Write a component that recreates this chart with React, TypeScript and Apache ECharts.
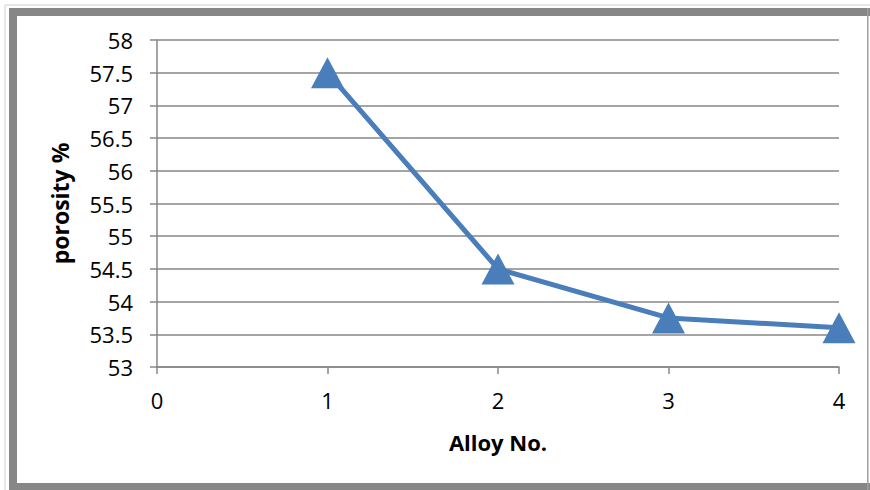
import React, { useEffect, useRef } from "react";
import * as echarts from "echarts";

const alloyNo = [1, 2, 3, 4];
const porosity = [57.5, 54.5, 53.75, 53.6];
const xTitle = "Alloy No.";
const yTitle = "porosity %";

export default function App() {
  const ref = useRef<HTMLDivElement>(null);
  useEffect(() => {
    const chart = echarts.init(ref.current!, null, { renderer: "svg" });
    const gridColor = "#878787";
    chart.setOption({
      animation: false,
      backgroundColor: "#ffffff",
      textStyle: { fontFamily: "Open Sans" },
      grid: { left: 157, right: 31, top: 40, bottom: 123 },
      xAxis: {
        type: "value",
        min: 0,
        max: 4,
        interval: 1,
        name: xTitle,
        nameLocation: "middle",
        nameGap: 64,
        nameTextStyle: { fontSize: 22, fontWeight: "bold", color: "#000", fontFamily: "Open Sans" },
        axisLine: { show: true, onZero: false, lineStyle: { color: gridColor, width: 1.5 } },
        axisTick: { show: true, length: 7, lineStyle: { color: gridColor, width: 1.5 } },
        axisLabel: { fontSize: 22, color: "#000", margin: 22, fontFamily: "Open Sans" },
        splitLine: { show: false },
      },
      yAxis: {
        type: "value",
        min: 53,
        max: 58,
        interval: 0.5,
        name: yTitle,
        nameLocation: "middle",
        nameGap: 86,
        nameRotate: 90,
        nameTextStyle: { fontSize: 23, fontWeight: "bold", color: "#000", fontFamily: "Open Sans" },
        axisLine: { show: true, lineStyle: { color: gridColor, width: 1.5 } },
        axisTick: { show: true, length: 7, lineStyle: { color: gridColor, width: 1.5 } },
        axisLabel: { fontSize: 22, color: "#000", margin: 24, fontFamily: "Open Sans" },
        splitLine: { show: true, lineStyle: { color: gridColor, width: 1.5 } },
      },
      series: [
        {
          type: "line",
          data: alloyNo.map((x, i) => [x, porosity[i]]),
          symbol: "triangle",
          symbolSize: [33, 31],
          lineStyle: { color: "#4a7ebb", width: 5 },
          itemStyle: { color: "#4a7ebb" },
          z: 5,
        },
      ],
      graphic: [
        { type: "rect", shape: { x: 5, y: 5, width: 870, height: 490 }, style: { fill: "none", stroke: "#d0d0d0", lineWidth: 1 }, silent: true },
        { type: "rect", shape: { x: 9, y: 8, width: 870, height: 8 }, style: { fill: "#878787" }, silent: true },
        { type: "rect", shape: { x: 9, y: 8, width: 8, height: 490 }, style: { fill: "#878787" }, silent: true },
        { type: "rect", shape: { x: 9, y: 483, width: 870, height: 8 }, style: { fill: "#878787" }, silent: true },
        { type: "rect", shape: { x: 867, y: 8, width: 1.5, height: 490 }, style: { fill: "#a0a0a0" }, silent: true },
      ],
    });
    return () => chart.dispose();
  }, []);
  return <div ref={ref} style={{ position: "absolute", left: 0, top: 0, width: 870, height: 490 }} />;
}
